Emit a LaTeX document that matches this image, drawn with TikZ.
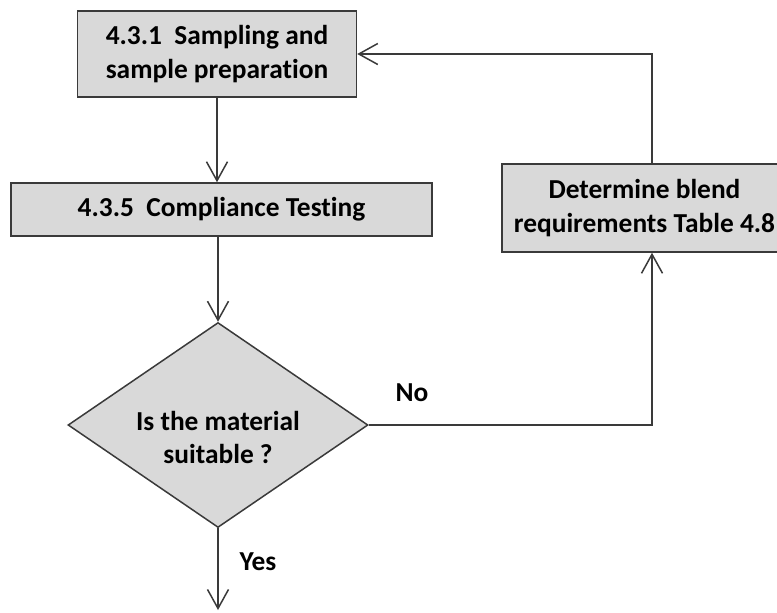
\documentclass[tikz,border=0pt]{standalone}
\usepackage{fontspec}
\setmainfont{Carlito}[Ligatures=NoCommon]
\usetikzlibrary{shapes.geometric,arrows.meta}

\definecolor{boxgray}{HTML}{D9D9D9}
\definecolor{linegray}{HTML}{3A3A3A}
\newcommand{\flowfont}{\fontsize{13.7}{16.7}\selectfont\bfseries}

\tikzset{
    process/.style={draw=linegray, line width=0.75pt, fill=boxgray, font=\flowfont, align=center, inner sep=0pt},
    decision/.style={diamond, draw=linegray, line width=0.75pt, fill=boxgray, inner sep=0pt, minimum width=150pt, minimum height=102.5pt},
    flow/.style={draw=linegray, line width=0.75pt, -{Straight Barb[length=9.5pt,width=10.5pt]}},
    tag/.style={font=\flowfont, align=center}
}

\begin{document}
\begin{tikzpicture}[x=0.5pt,y=-0.5pt]  % one unit is one pixel of the reference
    % Fix the page size
    \useasboundingbox (0,0) rectangle (777,612);
    \clip (0,0) rectangle (777,612);

    % Draw the boxes
    \node[process, minimum width=139.5pt, minimum height=43pt] (samp) at (217,54) {4.3.1~ Sampling and\\sample preparation};
    \node[process, minimum width=210.5pt, minimum height=26.5pt] (comp) at (221.5,209.5) {4.3.5~ Compliance Testing};
    \node[process, minimum width=142.5pt, minimum height=44pt] (blend) at (644.5,208) {Determine blend\\requirements Table 4.8};

    % Draw the decision and its text
    \node[decision] (suit) at (218,425) {};
    \node[tag] (suittext) at (218,437.5) {Is the material\\suitable ?};

    % Free end of the last arrow
    \coordinate (out) at (218,610);

    % Draw the connectors
    \draw[flow] (samp.south) -- (samp.south |- comp.north);
    \draw[flow] (suit.north |- comp.south) -- (suit.north);
    \draw[flow] (suit.east) -| ([xshift=3.75pt]blend.south);
    \draw[flow] ([xshift=3.75pt]blend.north) |- (samp.east);
    \draw[flow] (suit.south) -- (out);

    % Draw the labels 'No' and 'Yes'
    \node[tag] (no) at (412,393) {No};
    \node[tag] (yes) at (258,562) {Yes};
\end{tikzpicture}
\end{document}
